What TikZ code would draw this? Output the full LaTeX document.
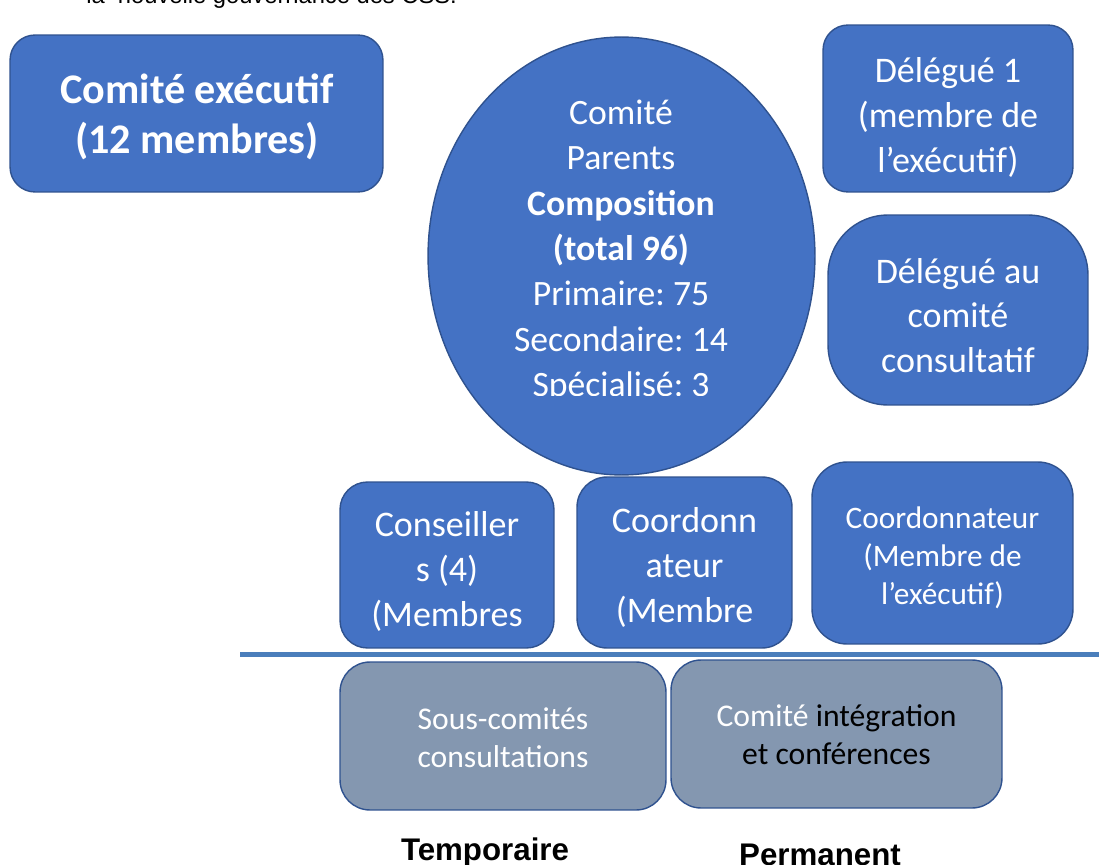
\documentclass[tikz,border=0pt]{standalone}
\usepackage{tikz}
\usepackage{fontspec}
\setmainfont{Carlito}
\newfontfamily\arialfont{Liberation Sans}
\usetikzlibrary{shapes.geometric}
\frenchspacing

\definecolor{officeblue}{HTML}{4472C4}
\definecolor{officeedge}{HTML}{2F528F}
\definecolor{officegrey}{HTML}{8497B0}
\definecolor{ruleblue}{HTML}{4A7EBB}

\begin{document}
\begin{tikzpicture}[x=0.02cm, y=-0.02cm,
	bluebox/.style={draw=officeedge, line width=0.8pt, fill=officeblue, rounded corners=#1, inner sep=0pt},
	bluebox/.default=0.5cm,
	greybox/.style={bluebox=0.6cm, fill=officegrey},
	boxtext/.style={text=white, align=center, inner sep=0pt, font=\fontsize{20.5}{25.5}\selectfont},
	smalltext/.style={boxtext, font=\fontsize{17.8}{21.6}\selectfont},
	caption/.style={anchor=base, inner sep=0pt, font=\arialfont\bfseries\fontsize{17.8}{20}\selectfont}]
	
	% Frame
	\useasboundingbox (0,0) rectangle (1099,865);
	\clip (0,0) rectangle (1099,865);
	
	% Heading, cut off at the top
	\node[anchor=base west, inner sep=0pt, font=\arialfont\fontsize{13.5}{16}\selectfont] (heading) at (86,4) {la\ \ nouvelle gouvernance des CSS.};
	
	% Top row
	\node[bluebox, minimum width=7.46cm, minimum height=3.14cm] (executif) at (196.5,113.5) {};
	\node[boxtext, font=\bfseries\fontsize{24}{28.5}\selectfont] (executiftext) at (197,117) {Comité exécutif\\(12 membres)};
	
	\node[ellipse, draw=officeedge, line width=0.8pt, fill=officeblue, minimum width=7.74cm, minimum height=8.76cm, inner sep=0pt] (parents) at (621.5,256) {};
	\begin{scope}
		\clip (400,60) rectangle (840,395);
		\node[boxtext, font=\fontsize{20.3}{25.8}\selectfont] (parentstext) at (621,251) {Comité\\Parents\\\textbf{Composition}\\\textbf{(total 96)}\\Primaire: 75\\Secondaire: 14\\Spécialisé: 3};
	\end{scope}
	
	\node[bluebox, minimum width=5cm, minimum height=3.34cm] (delegueun) at (948,108.5) {};
	\node[boxtext] (delegueuntext) at (948,117.5) {Délégué 1\\(membre de\\l’exécutif)};
	
	\node[bluebox=1.2cm, minimum width=5.2cm, minimum height=3.8cm] (deleguecc) at (958,310) {};
	\node[boxtext] (deleguecctext) at (958,315.5) {Délégué au\\comité\\consultatif};
	
	% Middle row
	\node[bluebox=0.55cm, minimum width=4.28cm, minimum height=3.32cm] (conseillers) at (447,565) {};
	\node[boxtext] (conseillerstext) at (447,571.5) {Conseiller\\s (4)\\(Membres};
	
	\node[bluebox=0.6cm, minimum width=4.3cm, minimum height=3.42cm] (coordonnateur) at (684.5,562.5) {};
	\node[boxtext] (coordonnateurtext) at (684.5,567.5) {Coordonn\\ateur\\(Membre};
	
	\node[bluebox=0.7cm, minimum width=5.22cm, minimum height=3.64cm] (coordexec) at (942.5,553) {};
	\node[smalltext] (coordexectext) at (942.5,557.5) {Coordonnateur\\(Membre de\\l’exécutif)};
	
	% Separator
	\coordinate (ruleleft) at (240,654.5);
	\coordinate (ruleright) at (1099,654.5);
	\draw[ruleblue, line width=2.4pt] (ruleleft) -- (ruleright);
	
	% Bottom row
	\node[greybox, minimum width=6.52cm, minimum height=2.96cm] (souscomites) at (503,736) {};
	\node[boxtext, font=\fontsize{18}{21.6}\selectfont] (souscomitestext) at (503,738) {Sous-comités\\consultations};
	
	\node[greybox, minimum width=6.62cm, minimum height=2.96cm] (integration) at (836.5,734) {};
	\node[boxtext, text=black, font=\fontsize{18}{21.6}\selectfont] (integrationtext) at (836.5,735) {\textcolor{white}{Comité} intégration\\et conférences};
	
	% Labels
	\node[caption] (temporaire) at (485,860) {Temporaire};
	\node[caption] (permanent) at (820,865) {Permanent};
	
\end{tikzpicture}
\end{document}
